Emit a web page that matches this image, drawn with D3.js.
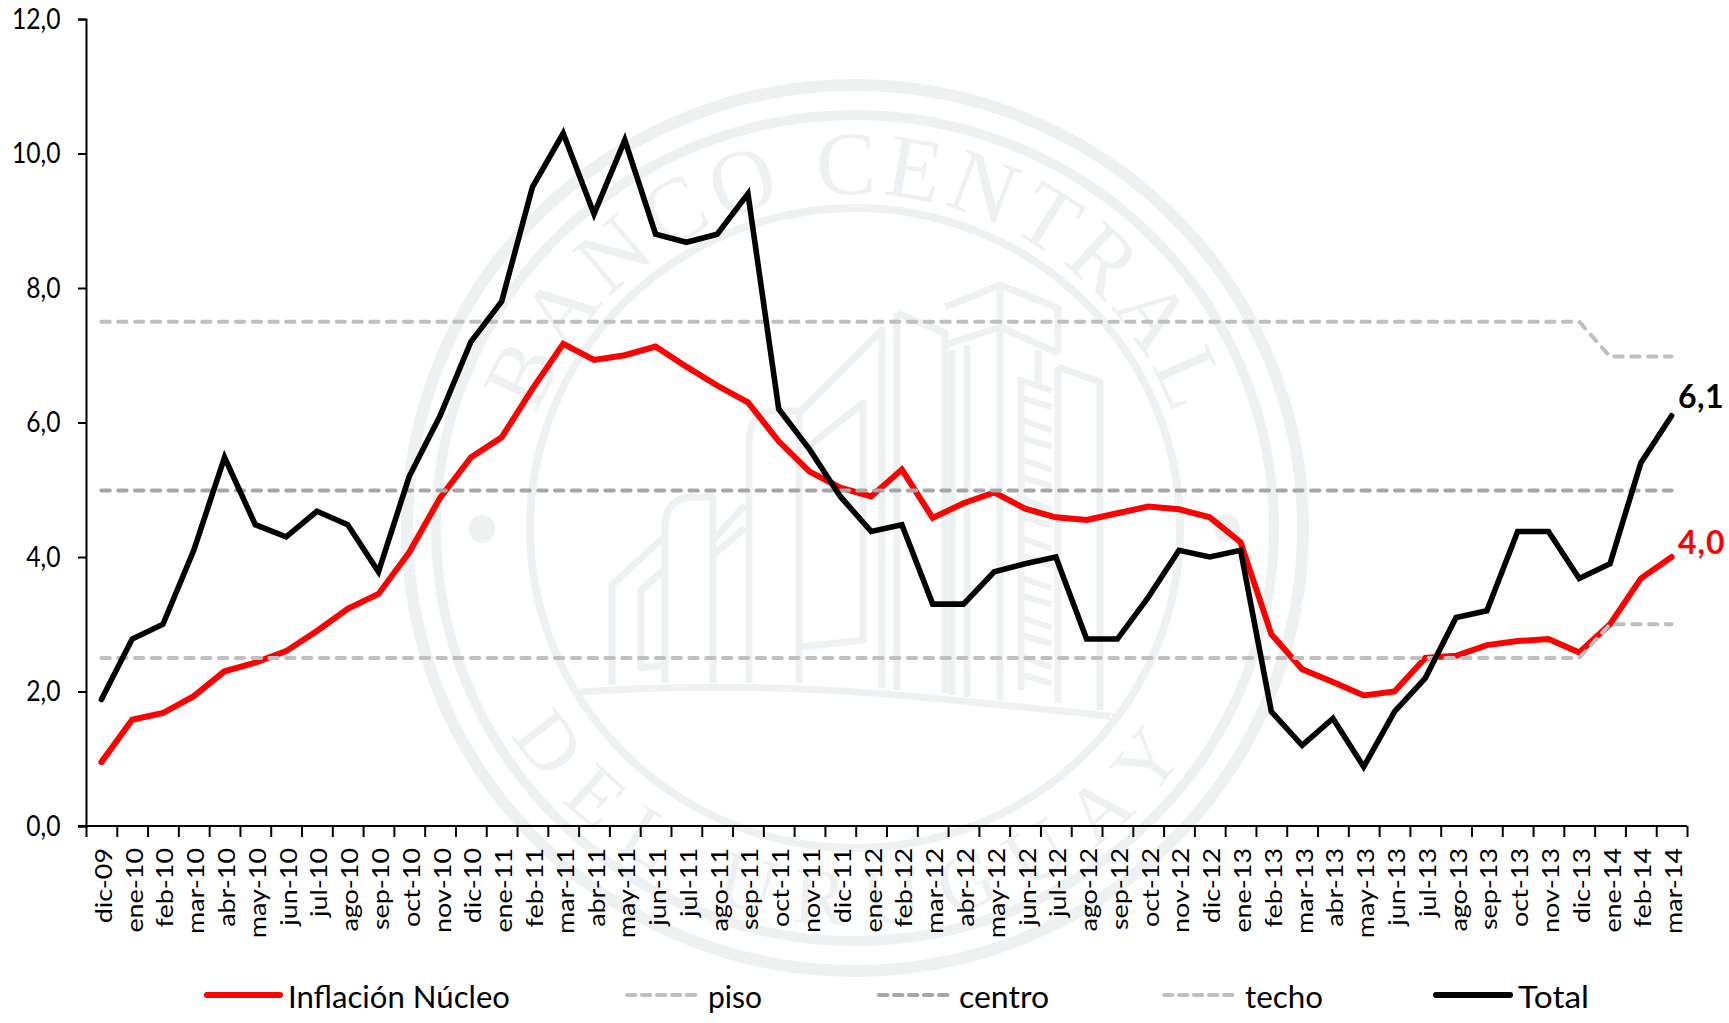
<!DOCTYPE html>
<html lang="es">
<head>
<meta charset="utf-8">
<title>Inflación</title>
<script src="https://d3js.org/d3.v7.min.js"></script>
<style>
html,body{margin:0;padding:0;background:#fff;overflow:hidden}
svg{display:block}
text{font-family:Lato,"Noto Sans",sans-serif;fill:#000}
</style>
</head>
<body>
<svg id="chart" width="1729" height="1023"></svg>
<script>
const months = ["dic-09",
 "ene-10","feb-10","mar-10","abr-10","may-10","jun-10","jul-10","ago-10","sep-10","oct-10","nov-10","dic-10",
 "ene-11","feb-11","mar-11","abr-11","may-11","jun-11","jul-11","ago-11","sep-11","oct-11","nov-11","dic-11",
 "ene-12","feb-12","mar-12","abr-12","may-12","jun-12","jul-12","ago-12","sep-12","oct-12","nov-12","dic-12",
 "ene-13","feb-13","mar-13","abr-13","may-13","jun-13","jul-13","ago-13","sep-13","oct-13","nov-13","dic-13",
 "ene-14","feb-14","mar-14"];
const total = [1.88,
 2.78,3.0,4.1,5.48,4.48,4.3,4.68,4.48,3.78,5.2,6.1,7.2,
 7.8,9.5,10.3,9.1,10.2,8.8,8.68,8.8,9.4,6.2,5.6,4.9,
 4.38,4.48,3.3,3.3,3.78,3.9,4.0,2.78,2.78,3.4,4.1,4.0,
 4.1,1.7,1.2,1.6,0.88,1.7,2.2,3.1,3.2,4.38,4.38,3.68,
 3.9,5.4,6.1];
const nucleo = [0.95,
 1.58,1.68,1.93,2.3,2.43,2.6,2.9,3.23,3.45,4.07,4.88,5.48,
 5.78,6.5,7.17,6.93,7.0,7.13,6.83,6.55,6.3,5.72,5.27,5.03,
 4.9,5.3,4.58,4.8,4.96,4.72,4.59,4.55,4.65,4.75,4.71,4.59,
 4.22,2.85,2.33,2.14,1.94,2.0,2.5,2.53,2.69,2.75,2.78,2.58,
 3.0,3.68,4.0];
const piso = months.map((m,i)=> i < 49 ? 2.5 : 3.0);
const centro = months.map(()=> 4.99);
const techo = months.map((m,i)=> i < 49 ? 7.5 : 6.98);
const yTicks = [0,2,4,6,8,10,12];
const legendNames = ["Inflación Núcleo","piso","centro","techo","Total"];

const svg = d3.select("#chart");
const L=86, R=1687, T=19, B=826;
const x = d3.scaleBand().domain(months).range([L,R]);
const xEdge = d3.scaleLinear().domain([0,months.length]).range([L,R]);
const y = d3.scaleLinear().domain([0,12]).range([B,T]);
const fmt = v => d3.format(".1f")(v).replace(".",",");

/* watermark */
const WM="#eef1f2", cx=855, cy=528;
const wm = svg.append("g").attr("fill","none").attr("stroke",WM);
[[448,443,12],[419,413,10],[325,320,8]].forEach(r=>
  wm.append("ellipse").attr("cx",cx).attr("cy",cy).attr("rx",r[0]).attr("ry",r[1]).attr("stroke-width",r[2]));
[[482,529],[1227,528]].forEach(p=>
  wm.append("ellipse").attr("cx",p[0]).attr("cy",p[1]).attr("rx",13).attr("ry",14).attr("fill",WM).attr("stroke","none"));
const defs = svg.append("defs");
defs.append("path").attr("id","arcTop").attr("d",`M${cx-338},${cy} A338,334 0 0 1 ${cx+338},${cy}`);
defs.append("path").attr("id","arcBot").attr("d",`M${cx-402},${cy} A402,397 0 0 0 ${cx+402},${cy}`);
const wmText=(id,s,fs,ls,off)=>svg.append("text")
  .style("font-family","'Liberation Serif',serif").style("font-size",fs+"px").style("letter-spacing",ls+"px")
  .style("fill",WM)
  .attr("text-anchor","middle")
  .append("textPath").attr("href","#"+id).attr("startOffset",off).text(s);
wmText("arcTop","BANCO CENTRAL",90,6,"50.3%");
wmText("arcBot","DEL URUGUAY",80,23,"50%");
const bld = svg.append("g").attr("fill","none").attr("stroke",WM).attr("stroke-width",7).attr("stroke-linejoin","round");
[
 "M580,692 Q745,680 930,698 T1113,717",
 "M612,685 V585 L664,537",
 "M665,665 L641,668 V590 L664,570",
 "M665,683 V527 Q665,497 695,497 H713 V683",
 "M713,540 L745,505 M713,555 L745,528 M749,683 V437 Q752,411 775,411 H798",
 "M799,683 V413 L882,330",
 "M802,647 L863,640 V403 L804,450",
 "M882,327 V688 M897,313 V690 M897,313 L945,333 V693",
 "M945,307 L1000,285 L1058,308 V353 M945,345 L1000,327 L1058,353",
 "M1000,285 V700 M952,350 V695 M967,345 V697 M1038,350 V385",
 "M1058,367 L1100,382 V710 M1058,367 V703",
 "M1021,377 V690"
].forEach(d=>bld.append("path").attr("d",d));
/* escalera de incendio */
bld.append("path").attr("stroke-width",6).attr("d",d3.range(8).map(i=>{
  const t=380+i*39.5;
  return `M1021,${t} L1052,${t+11} M1021,${t+18} L1052,${t+27}`;
}).join(" "));

/* series */
const line = d3.line().x((d,i)=>x(months[i])+x.bandwidth()/2).y(d=>y(d));
const draw=(data,color,w,dash)=>svg.append("path").datum(data).attr("d",line)
  .attr("fill","none").attr("stroke",color).attr("stroke-width",w)
  .attr("stroke-linecap","round").attr("stroke-linejoin","miter").attr("stroke-miterlimit",6)
  .attr("stroke-dasharray",dash||null);
const DASH="8.4 8.4";
draw(nucleo,"#ff0000",6);
draw(piso,"#bfbfbf",4,DASH);
draw(centro,"#a6a6a6",4,DASH);
draw(techo,"#bfbfbf",4,DASH);
draw(total,"#000000",5.6);

/* axes */
const gy = svg.append("g").attr("transform",`translate(${L},0)`)
  .call(d3.axisLeft(y).tickValues(yTicks).tickSize(8).tickFormat(fmt));
gy.selectAll("path,line").attr("stroke","#000").attr("stroke-width",2);
gy.selectAll("text").attr("x",0).attr("dy",0)
  .attr("transform","translate(-25.5,9) scale(0.88,1)")
  .attr("text-anchor","end").style("font-size","28px").style("font-family","Lato");

const gxt = svg.append("g").attr("transform",`translate(0,${B})`)
  .call(d3.axisBottom(xEdge).tickValues(d3.range(months.length+1)).tickSize(11).tickSizeOuter(0).tickFormat(""));
gxt.selectAll("path,line").attr("stroke","#000").attr("stroke-width",2);
gxt.select("path").attr("d",`M${L-8},0H${R}`);

const gx = svg.append("g").attr("transform",`translate(0,${B})`)
  .call(d3.axisBottom(x).tickSize(0));
gx.select("path").remove();
gx.selectAll("text").attr("x",0).attr("y",0).attr("dy",0)
  .attr("text-anchor","end")
  .attr("transform","translate(10.5,22) rotate(-90) scale(1.17,1)")
  .style("font-size","23px").style("font-family","Lato");

/* end labels */
svg.append("text").attr("x",1678).attr("y",408).text(fmt(total[total.length-1]))
  .style("font-size","32px").style("font-weight","700").style("fill","#000").style("letter-spacing","0.5px");
svg.append("text").attr("x",1678).attr("y",554).text(fmt(nucleo[nucleo.length-1]))
  .style("font-size","32px").style("font-weight","700").style("fill","#ff0000").style("letter-spacing","1px");

/* legend */
const legendPos=[
 {x0:207,x1:280,tx:288,tw:222,c:"#ff0000",w:6,dash:null},
 {x0:627,x1:698,tx:708,tw:54,c:"#bfbfbf",w:4,dash:"8.4 6.6"},
 {x0:879,x1:950,tx:959,tw:90,c:"#a6a6a6",w:4,dash:"8.4 6.6"},
 {x0:1164,x1:1235,tx:1245,tw:78,c:"#bfbfbf",w:4,dash:"8.4 6.6"},
 {x0:1436,x1:1510,tx:1518,tw:71,c:"#000",w:6,dash:null}];
const lg = svg.append("g");
legendNames.forEach((n,i)=>{
  const p=legendPos[i];
  lg.append("line").attr("x1",p.x0).attr("x2",p.x1).attr("y1",995).attr("y2",995)
    .attr("stroke",p.c).attr("stroke-width",p.w).attr("stroke-linecap","round").attr("stroke-dasharray",p.dash);
  lg.append("text").attr("x",p.tx).attr("y",1008).text(n)
    .attr("textLength",p.tw).attr("lengthAdjust","spacingAndGlyphs").style("font-size","30px");
});
</script>
</body>
</html>
